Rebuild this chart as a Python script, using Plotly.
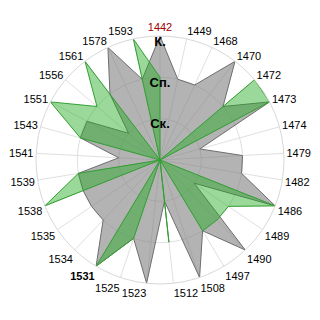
import plotly.graph_objects as go

years = ["1442", "1449", "1468", "1470", "1472", "1473", "1474", "1479", "1482",
         "1486", "1489", "1490", "1497", "1508", "1512", "1523", "1525", "1531",
         "1534", "1535", "1538", "1539", "1541", "1543", "1551", "1556", "1561",
         "1578", "1593"]
gray_vals = [3, 2, 2, 3, 2, 3, 1, 2, 2,
             3, 1, 3, 2, 3, 1, 3, 2, 3,
             2, 2, 2, 2, 1, 2, 2, 1, 2,
             3, 2]
green_vals = [2, 0, 0, 0, 3, 3, 0, 0, 0,
              3, 2, 2, 2, 0, 2, 0, 2, 3,
              0, 0, 3, 2, 0, 2, 3, 2, 3,
              0, 3]
radial_ticks = [1, 2, 3]
radial_labels = ["Ск.", "Сп.", "К."]

tick_text = []
for y in years:
    if y == "1442":
        tick_text.append("<span style='color:#a00000'>1442</span>")
    elif y == "1531":
        tick_text.append("<b>1531</b>")
    else:
        tick_text.append(y)

fig = go.Figure()
fig.add_trace(go.Scatterpolar(
    r=gray_vals + gray_vals[:1], theta=years + years[:1], mode="lines",
    fill="toself", fillcolor="rgba(128,128,128,0.6)",
    line=dict(color="rgb(110,110,110)", width=1), hoverinfo="skip"))
fig.add_trace(go.Scatterpolar(
    r=green_vals + green_vals[:1], theta=years + years[:1], mode="lines",
    fill="toself", fillcolor="rgba(30,170,30,0.45)",
    line=dict(color="rgb(50,160,50)", width=1), hoverinfo="skip"))
# radial level labels, placed at the radial tick values along the 1442 spoke
fig.add_trace(go.Scatterpolar(
    r=radial_ticks, theta=[years[0]] * len(radial_ticks), mode="text",
    text=["<b>%s</b>" % t for t in radial_labels], textposition="bottom center",
    textfont=dict(size=13, color="black",
                  family="Liberation Sans, Arial, sans-serif"),
    hoverinfo="skip"))

fig.update_layout(
    width=320, height=320, margin=dict(l=0, r=0, t=0, b=0),
    paper_bgcolor="white", showlegend=False,
    font=dict(family="Liberation Sans, Arial, sans-serif", size=11, color="black"),
    polar=dict(
        domain=dict(x=[0.1125, 0.8875], y=[0.1125, 0.8875]),
        bgcolor="white",
        angularaxis=dict(direction="clockwise", rotation=90, type="category",
                         categoryarray=years, tickmode="array", tickvals=years,
                         ticktext=tick_text, showline=True, linecolor="#d8d8d8",
                         gridcolor="#e0e0e0", ticks="", tickfont=dict(size=11)),
        radialaxis=dict(range=[0, 3], tickmode="array", tickvals=radial_ticks,
                        showticklabels=False, angle=90, showline=False, ticks="",
                        gridcolor="#e0e0e0"),
    ),
)
fig.write_html("out.html")
